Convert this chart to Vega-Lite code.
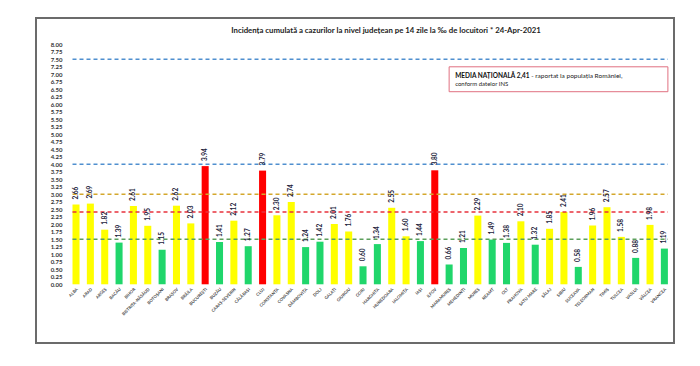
{
  "$schema": "https://vega.github.io/schema/vega-lite/v6.json",
  "width": 638,
  "height": 325,
  "autosize": {"type": "none"},
  "padding": {"left": 36, "top": 18, "right": 26, "bottom": 23},
  "background": "white",
  "config": {"view": {"stroke": "#6b6b6b", "strokeWidth": 2}, "font": "Lato"},
  "title": {
    "text": "Incidența cumulată a cazurilor la nivel județean pe 14 zile la ‰ de locuitori *  24-Apr-2021",
    "fontSize": 7.8, "fontWeight": "bold", "font": "Lato", "color": "#222",
    "anchor": "middle", "frame": "group", "dx": 31, "offset": -17
  },
  "data": {"values": [
    {"county": "ALBA", "value": 2.66},
    {"county": "ARAD", "value": 2.69},
    {"county": "ARGEȘ", "value": 1.82},
    {"county": "BACĂU", "value": 1.39},
    {"county": "BIHOR", "value": 2.61},
    {"county": "BISTRIȚA-NĂSĂUD", "value": 1.95},
    {"county": "BOTOȘANI", "value": 1.15},
    {"county": "BRAȘOV", "value": 2.62},
    {"county": "BRĂILA", "value": 2.03},
    {"county": "BUCUREȘTI", "value": 3.94},
    {"county": "BUZĂU", "value": 1.41},
    {"county": "CARAȘ-SEVERIN", "value": 2.12},
    {"county": "CĂLĂRAȘI", "value": 1.27},
    {"county": "CLUJ", "value": 3.79},
    {"county": "CONSTANȚA", "value": 2.30},
    {"county": "COVASNA", "value": 2.74},
    {"county": "DÂMBOVIȚA", "value": 1.24},
    {"county": "DOLJ", "value": 1.42},
    {"county": "GALAȚI", "value": 2.01},
    {"county": "GIURGIU", "value": 1.76},
    {"county": "GORJ", "value": 0.60},
    {"county": "HARGHITA", "value": 1.34},
    {"county": "HUNEDOARA", "value": 2.55},
    {"county": "IALOMIȚA", "value": 1.60},
    {"county": "IAȘI", "value": 1.44},
    {"county": "ILFOV", "value": 3.80},
    {"county": "MARAMUREȘ", "value": 0.66},
    {"county": "MEHEDINȚI", "value": 1.21},
    {"county": "MUREȘ", "value": 2.29},
    {"county": "NEAMȚ", "value": 1.49},
    {"county": "OLT", "value": 1.38},
    {"county": "PRAHOVA", "value": 2.10},
    {"county": "SATU MARE", "value": 1.32},
    {"county": "SĂLAJ", "value": 1.85},
    {"county": "SIBIU", "value": 2.41},
    {"county": "SUCEAVA", "value": 0.58},
    {"county": "TELEORMAN", "value": 1.96},
    {"county": "TIMIȘ", "value": 2.57},
    {"county": "TULCEA", "value": 1.58},
    {"county": "VASLUI", "value": 0.88},
    {"county": "VÂLCEA", "value": 1.98},
    {"county": "VRANCEA", "value": 1.19}
  ]},
  "encoding": {
    "x": {
      "field": "county", "type": "nominal",
      "scale": {
        "domain": ["ALBA","ARAD","ARGEȘ","BACĂU","BIHOR","BISTRIȚA-NĂSĂUD","BOTOȘANI","BRAȘOV","BRĂILA","BUCUREȘTI","BUZĂU","CARAȘ-SEVERIN","CĂLĂRAȘI","CLUJ","CONSTANȚA","COVASNA","DÂMBOVIȚA","DOLJ","GALAȚI","GIURGIU","GORJ","HARGHITA","HUNEDOARA","IALOMIȚA","IAȘI","ILFOV","MARAMUREȘ","MEHEDINȚI","MUREȘ","NEAMȚ","OLT","PRAHOVA","SATU MARE","SĂLAJ","SIBIU","SUCEAVA","TELEORMAN","TIMIȘ","TULCEA","VASLUI","VÂLCEA","VRANCEA"],
        "range": [36.5, 631.9],
        "paddingInner": 0.51, "paddingOuter": 0
      },
      "axis": {
        "title": null, "orient": "bottom", "offset": -59, "domain": false, "ticks": false,
        "labelAngle": -45, "labelAlign": "right", "labelBaseline": "top", "labelPadding": 3,
        "labelFontSize": 4.2, "labelFontWeight": "bold", "labelColor": "#444", "labelOverlap": false
      }
    },
    "y": {
      "field": "value", "type": "quantitative",
      "scale": {"domain": [-1.957, 8.877], "nice": false, "zero": false},
      "axis": {
        "title": null, "offset": -28, "domain": false, "ticks": false, "grid": false,
        "values": [0,0.25,0.5,0.75,1,1.25,1.5,1.75,2,2.25,2.5,2.75,3,3.25,3.5,3.75,4,4.25,4.5,4.75,5,5.25,5.5,5.75,6,6.25,6.5,6.75,7,7.25,7.5,7.75,8],
        "format": ".2f", "labelPadding": 2, "labelFontSize": 6, "labelFontWeight": "bold",
        "labelColor": "#333", "labelOverlap": false
      }
    }
  },
  "layer": [
    {
      "mark": {"type": "bar"},
      "encoding": {
        "y2": {"datum": 0},
        "color": {
          "field": "value", "type": "quantitative",
          "scale": {"type": "threshold", "domain": [1.5, 3], "range": ["#20d66b", "#ffff00", "#ff0000"]},
          "legend": null
        }
      }
    },
    {
      "data": {"values": [
        {"ref": 7.5, "line": "blue"},
        {"ref": 4.0, "line": "blue"},
        {"ref": 3.0, "line": "gold"},
        {"ref": 2.41, "line": "red"},
        {"ref": 1.5, "line": "green"}
      ]},
      "mark": {"type": "rule", "strokeDash": [4, 3], "strokeWidth": 1.5},
      "encoding": {
        "x": {"datum": "ALBA", "bandPosition": 0},
        "x2": {"datum": "VRANCEA", "bandPosition": 1},
        "y": {"field": "ref", "type": "quantitative"},
        "stroke": {
          "field": "line", "type": "nominal",
          "scale": {"domain": ["blue", "gold", "red", "green"], "range": ["#4f8fcf", "#d4a72c", "#e8323c", "#5c9f5c"]},
          "legend": null
        }
      }
    },
    {
      "mark": {"type": "text", "angle": 270, "align": "left", "baseline": "middle", "dx": 5, "fontSize": 6.5, "fontWeight": "bold", "color": "#1b1b3a"},
      "encoding": {
        "text": {"field": "value", "type": "quantitative", "format": ".2f"}
      }
    },
    {
      "transform": [{"filter": "datum.county === 'MARAMUREȘ'"}],
      "mark": {"type": "rect", "fill": "white", "stroke": "#e07080", "strokeWidth": 1},
      "encoding": {
        "x2": {"datum": "VRANCEA", "bandPosition": 1},
        "y": {"datum": 7.25},
        "y2": {"datum": 6.42}
      }
    },
    {
      "transform": [{"filter": "datum.county === 'MARAMUREȘ'"}],
      "mark": {"type": "text", "text": "MEDIA NAȚIONALĂ 2,41", "align": "left", "baseline": "middle", "dx": 6, "fontSize": 6.5, "fontWeight": "bold", "color": "#111"},
      "encoding": {
        "y": {"datum": 6.95}
      }
    },
    {
      "transform": [{"filter": "datum.county === 'SATU MARE'"}],
      "mark": {"type": "text", "text": "- raportat la populația României,", "align": "left", "baseline": "middle", "dx": -4, "fontSize": 6.5, "color": "#222"},
      "encoding": {
        "y": {"datum": 6.95}
      }
    },
    {
      "transform": [{"filter": "datum.county === 'MARAMUREȘ'"}],
      "mark": {"type": "text", "text": "conform datelor INS", "align": "left", "baseline": "middle", "dx": 6, "fontSize": 6, "color": "#222"},
      "encoding": {
        "y": {"datum": 6.68}
      }
    }
  ]
}
